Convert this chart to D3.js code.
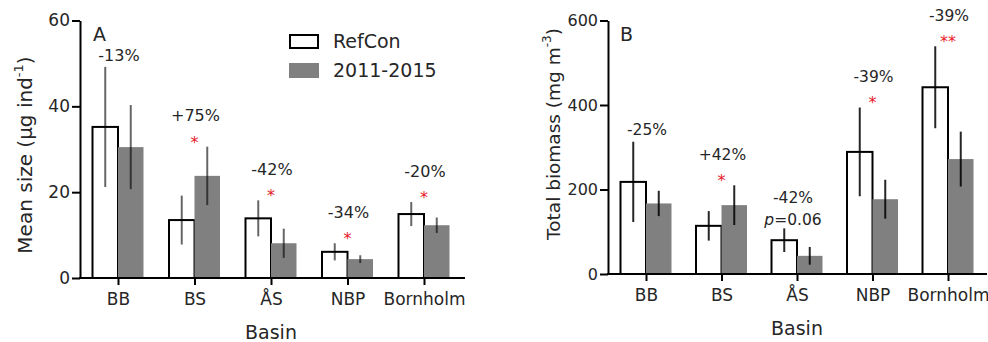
<!DOCTYPE html>
<html>
<head>
<meta charset="utf-8">
<script src="https://cdn.jsdelivr.net/npm/d3@7"></script>
<style>
  body { margin: 0; background: #fff; }
  svg { display: block; font-family: "DejaVu Sans", sans-serif; }
</style>
</head>
<body>
<svg id="chart" width="988" height="342"></svg>
<script>
const basins = ["BB", "BS", "ÅS", "NBP", "Bornholm"];

// panel A: mean size (µg ind-1)
const sizeRef = [35.2, 13.5, 13.9, 6.1, 14.9];
const sizeRefErr = [14, 5.7, 4.2, 2.0, 2.8];
const sizeNow = [30.5, 23.8, 8.1, 4.4, 12.3];
const sizeNowErr = [9.8, 6.8, 3.4, 0.9, 1.8];
const sizeChange = ["-13%", "+75%", "-42%", "-34%", "-20%"];
const sizeSig = ["", "*", "*", "*", "*"];
const sizeTicks = [0, 20, 40, 60];

// panel B: total biomass (mg m-3)
const bioRef = [218, 114, 80, 289, 442];
const bioRefErr = [95, 35, 28, 105, 97];
const bioNow = [167, 163, 43, 177, 272];
const bioNowErr = [30, 47, 21, 46, 65];
const bioChange = ["-25%", "+42%", "-42%", "-39%", "-39%"];
const bioSig = ["", "*", "p=0.06", "*", "**"];
const bioTicks = [0, 200, 400, 600];

const svg = d3.select("#chart");
const barW = 25.5;
const grey = "#808080";
const ink = "#262626";

function drawPanel(p) {
  const x = d3.scalePoint().domain(basins).range(p.centers);
  const y = d3.scaleLinear().domain([0, p.yMax]).range([p.y0, p.yTop]);
  const g = svg.append("g");

  const rows = basins.map((b, i) => ({
    b, ref: p.ref[i], refErr: p.refErr[i], now: p.now[i], nowErr: p.nowErr[i],
    change: p.change[i], sig: p.sig[i]
  }));

  // bars
  g.selectAll(".ref").data(rows).join("rect")
    .attr("x", d => x(d.b) - barW)
    .attr("y", d => y(d.ref))
    .attr("width", barW)
    .attr("height", d => y(0) - y(d.ref))
    .attr("fill", "#fff")
    .attr("stroke", "#000")
    .attr("stroke-width", 2);

  g.selectAll(".now").data(rows).join("rect")
    .attr("x", d => x(d.b))
    .attr("y", d => y(d.now))
    .attr("width", barW)
    .attr("height", d => y(0) - y(d.now))
    .attr("fill", grey);

  // error bars
  const errs = rows.flatMap(d => [
    {cx: x(d.b) - barW / 2, v: d.ref, e: d.refErr},
    {cx: x(d.b) + barW / 2, v: d.now, e: d.nowErr}
  ]);
  g.selectAll(".err").data(errs).join("line")
    .attr("x1", d => d.cx).attr("x2", d => d.cx)
    .attr("y1", d => y(d.v + d.e))
    .attr("y2", d => y(Math.max(0, d.v - d.e)))
    .attr("stroke", "#000")
    .attr("stroke-opacity", p.errOpacity)
    .attr("stroke-width", 2);

  // y axis
  const ya = g.append("g")
    .attr("transform", `translate(${p.axisX},0)`)
    .call(d3.axisLeft(y).tickValues(p.ticks).tickSize(8).tickSizeOuter(0).tickPadding(2));
  ya.select(".domain").attr("stroke-width", 2);
  ya.selectAll(".tick line").attr("stroke-width", 2);
  ya.selectAll(".tick text")
    .attr("font-family", "DejaVu Sans")
    .attr("font-size", p.tickFont)
    .attr("fill", ink);

  // x axis
  const xa = g.append("g")
    .attr("transform", `translate(0,${p.y0})`)
    .call(d3.axisBottom(x).tickSize(7).tickPadding(8));
  xa.select(".domain").remove();
  xa.selectAll(".tick line").attr("stroke-width", 2);
  xa.selectAll(".tick text")
    .attr("font-family", "DejaVu Sans")
    .attr("font-size", 17)
    .attr("fill", ink);
  g.append("line")
    .attr("x1", p.axisX - 1).attr("x2", p.axisEnd)
    .attr("y1", p.y0).attr("y2", p.y0)
    .attr("stroke", "#000").attr("stroke-width", 2);

  // annotations
  rows.forEach(d => {
    const top = y(Math.max(d.ref + d.refErr, d.now + d.nowErr));
    const cx = x(d.b);
    let labelY = top - 12;
    if (d.sig) {
      const sy = top - 9;
      if (d.sig.startsWith("p")) {
        const t = g.append("text")
          .attr("x", cx - 4).attr("y", sy).attr("dy", "0.36em")
          .attr("text-anchor", "middle")
          .attr("font-size", 15.5).attr("fill", ink);
        t.append("tspan").attr("font-style", "italic").text("p");
        t.append("tspan").text(d.sig.slice(1));
      } else {
        g.append("text")
          .attr("x", cx).attr("y", sy).attr("dy", "0.62em")
          .attr("text-anchor", "middle")
          .attr("font-size", 16).attr("fill", "#e8202a")
          .text(d.sig);
      }
      labelY = sy - 22;
    }
    g.append("text")
      .attr("x", cx + (d.sig.startsWith("p") ? -4 : 1)).attr("y", labelY).attr("dy", "0.36em")
      .attr("text-anchor", "middle")
      .attr("font-size", p.pctFont).attr("fill", ink)
      .text(d.change);
  });

  // panel letter
  g.append("text")
    .attr("x", p.letterX).attr("y", 41)
    .attr("font-size", 19).attr("fill", ink)
    .text(p.letter);

  // axis titles
  const yt = g.append("text")
    .attr("transform", `translate(${p.titleX},${p.titleY}) rotate(-90)`)
    .attr("text-anchor", "middle")
    .attr("dy", "0.36em")
    .attr("font-size", p.titleFont).attr("fill", ink);
  yt.append("tspan").text(p.title[0]);
  yt.append("tspan").attr("font-size", p.titleFont * 0.65).attr("dy", "-0.7em").text(p.title[1]);
  yt.append("tspan").attr("dy", `${p.titleFont * 0.65 * 0.7}px`).text(")");

  g.append("text")
    .attr("x", p.basinX).attr("y", p.basinY)
    .attr("text-anchor", "middle")
    .attr("font-size", 19).attr("fill", ink)
    .text("Basin");
}

drawPanel({
  ref: sizeRef, refErr: sizeRefErr, now: sizeNow, nowErr: sizeNowErr,
  change: sizeChange, sig: sizeSig, ticks: sizeTicks, yMax: 60,
  centers: [118, 424], y0: 278, yTop: 20.5, axisX: 80, axisEnd: 465,
  errOpacity: 0.6, tickFont: 17, pctFont: 16,
  letter: "A", letterX: 93,
  title: ["Mean size (µg ind", "-1"], titleFont: 20, titleX: 25, titleY: 155,
  basinX: 271, basinY: 339
});

drawPanel({
  ref: bioRef, refErr: bioRefErr, now: bioNow, nowErr: bioNowErr,
  change: bioChange, sig: bioSig, ticks: bioTicks, yMax: 600,
  centers: [646, 948], y0: 274, yTop: 20.5, axisX: 608, axisEnd: 987,
  errOpacity: 0.85, tickFont: 16, pctFont: 15.5,
  letter: "B", letterX: 620,
  title: ["Total biomass (mg m", "-3"], titleFont: 18.5, titleX: 553, titleY: 134,
  basinX: 797, basinY: 335
});

// legend
const legend = svg.append("g");
const legendItems = ["RefCon", "2011-2015"];
const legendFill = ["#fff", grey];
legend.selectAll("rect").data(legendItems).join("rect")
  .attr("x", (d, i) => i ? 289 : 290)
  .attr("y", (d, i) => i ? 63 : 35)
  .attr("width", (d, i) => i ? 30 : 28)
  .attr("height", (d, i) => i ? 15 : 13)
  .attr("fill", (d, i) => legendFill[i])
  .attr("stroke", (d, i) => i ? "none" : "#000")
  .attr("stroke-width", 2);
legend.selectAll("text").data(legendItems).join("text")
  .attr("x", 333)
  .attr("y", (d, i) => i ? 70.5 : 41.5)
  .attr("dy", "0.36em")
  .attr("font-size", 19).attr("fill", ink)
  .text(d => d);
</script>
</body>
</html>
